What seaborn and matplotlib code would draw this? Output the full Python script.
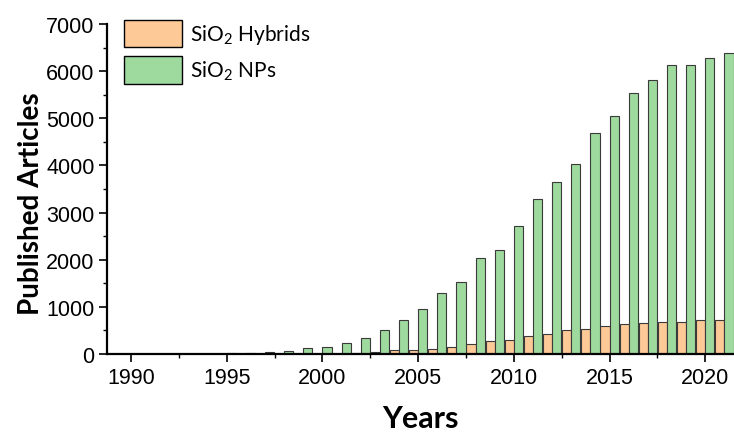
import numpy as np
import pandas as pd
import seaborn as sns
import matplotlib
matplotlib.use("Agg")
import matplotlib.pyplot as plt
from matplotlib.ticker import FixedLocator, MultipleLocator

# Publication counts per year
years = list(range(1990, 2022))
hybrids = [0, 0, 0, 0, 0, 0, 1, 2, 3, 4, 5, 8, 21, 42, 78, 91,
           98, 148, 218, 276, 303, 382, 424, 509, 530, 600, 643, 650,
           670, 685, 715, 715]
nps = [2, 3, 5, 7, 10, 15, 22, 36, 70, 121, 142, 227, 340, 516, 721, 955,
       1288, 1520, 2030, 2200, 2709, 3295, 3656, 4030, 4695, 5042, 5530,
       5812, 6130, 6130, 6272, 6385]
series_names = ["SiO$_2$ Hybrids", "SiO$_2$ NPs"]
series_colors = ["#FDC997", "#9ED99E"]
tick_years = [1990, 1995, 2000, 2005, 2010, 2015, 2020]

df = pd.DataFrame({
    "Year": years * 2,
    "Count": hybrids + nps,
    "Series": [series_names[0]] * len(years) + [series_names[1]] * len(years),
})

sns.set_style("ticks")
plt.rcParams["font.family"] = ["Liberation Sans", "DejaVu Sans"]
plt.rcParams["text.color"] = "black"
plt.rcParams["axes.labelcolor"] = "black"
plt.rcParams["xtick.color"] = "black"
plt.rcParams["ytick.color"] = "black"
plt.rcParams["mathtext.fontset"] = "custom"
plt.rcParams["mathtext.rm"] = "Lato"
plt.rcParams["mathtext.it"] = "Lato:italic"
plt.rcParams["mathtext.bf"] = "Lato:bold"

fig = plt.figure(figsize=(7.34, 4.35), dpi=100)
ax = fig.add_axes([0.1458, 0.1839, 0.8542, 0.7586])

sns.barplot(data=df, x="Year", y="Count", hue="Series",
            hue_order=series_names, palette=series_colors,
            order=years, width=0.96, edgecolor="#3a3a3a", linewidth=0.8,
            saturation=1, ax=ax)

ax.set_xlim(-1.25, 31.5)
ax.set_ylim(0, 7000)

ax.xaxis.set_major_locator(FixedLocator([y - 1990 for y in tick_years]))
ax.set_xticklabels([str(y) for y in tick_years])
ax.xaxis.set_minor_locator(FixedLocator(np.arange(2.5, 32, 5)))
ax.yaxis.set_major_locator(MultipleLocator(1000))
ax.yaxis.set_minor_locator(MultipleLocator(500))

ax.tick_params(axis="both", which="major", direction="out", length=6,
               width=1.2, labelsize=15.5, color="black", labelcolor="black",
               pad=3)
ax.tick_params(axis="both", which="minor", direction="out", length=3,
               width=1.0, color="black")
for lbl in ax.get_xticklabels() + ax.get_yticklabels():
    lbl.set_fontfamily("Liberation Sans")

sns.despine(ax=ax)
for side in ("left", "bottom"):
    ax.spines[side].set_linewidth(1.6)
    ax.spines[side].set_color("black")

ax.set_xlabel("Years", fontsize=22, fontweight="bold", family="Lato",
              labelpad=12)
ax.set_ylabel("Published Articles", fontsize=20, fontweight="bold",
              family="Lato", labelpad=4)
ax.yaxis.set_label_coords(-0.1, 0.46)

sns.move_legend(ax, "upper left", frameon=False, title=None,
                bbox_to_anchor=(-0.003, 1.07),
                handlelength=2.8, handleheight=1.65, handletextpad=0.35,
                labelspacing=0.45, prop={"family": "Lato", "size": 15})
for h in ax.get_legend().legend_handles:
    h.set_edgecolor("black")
    h.set_linewidth(1.0)

fig.savefig("out.png", dpi=100)
